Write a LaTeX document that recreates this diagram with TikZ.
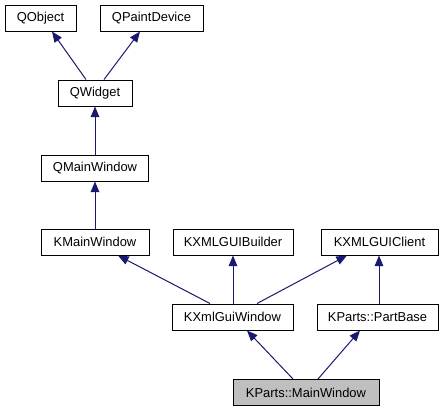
\documentclass[tikz,border=0pt]{standalone}
\usepackage{fontspec}
\setmainfont{Liberation Sans}
\usetikzlibrary{arrows.meta,calc}
\definecolor{edgeblue}{HTML}{191970}
\definecolor{hilite}{HTML}{BFBFBF}
\begin{document}
\begin{tikzpicture}[x=0.75pt,y=-0.75pt,
  cls/.style={draw=black,line width=0.75pt,fill=white,minimum height=19.5pt,inner sep=0pt,font=\fontsize{9.7}{11}\selectfont},
  edge/.style={draw=edgeblue,line width=0.75pt,-{Triangle[length=8pt,width=6.5pt]}}]
\useasboundingbox (0,0) rectangle (447,411);
\node[cls,minimum width=53.25pt] (qo) at (40.5,18) {QObject};
\node[cls,minimum width=77.25pt] (qpd) at (151.5,18) {QPaintDevice};
\node[cls,minimum width=55.5pt] (qw) at (95,93) {QWidget};
\node[cls,minimum width=80.25pt] (qmw) at (95,168) {QMainWindow};
\node[cls,minimum width=81pt] (kmw) at (95,242) {KMainWindow};
\node[cls,minimum width=90pt] (kgb) at (233,242) {KXMLGUIBuilder};
\node[cls,minimum width=87.75pt] (kgc) at (379.5,242) {KXMLGUIClient};
\node[cls,minimum width=90.75pt] (kxw) at (232.5,317) {KXmlGuiWindow};
\node[cls,minimum width=90.75pt] (kpb) at (377.5,317) {KParts::PartBase};
\node[cls,minimum width=109.5pt,fill=hilite] (kpmw) at (306,392.5) {KParts::MainWindow};
\draw[edge] ($(qw.north)+(-9,0)$) -- ($(qo.south)+(11.5,0)$);
\draw[edge] ($(qw.north)+(9,0)$) -- ($(qpd.south)+(-11.5,0)$);
\draw[edge] (qmw.north) -- (qw.south);
\draw[edge] (kmw.north) -- (qmw.south);
\draw[edge] ($(kxw.north)+(-22.5,0)$) -- ($(kmw.south)+(23,0)$);
\draw[edge] ($(kxw.north)+(0.5,0)$) -- (kgb.south);
\draw[edge] ($(kxw.north)+(24.5,0)$) -- ($(kgc.south)+(-32.5,0)$);
\draw[edge] ($(kpb.north)+(1.5,0)$) -- ($(kgc.south)+(-0.5,0)$);
\draw[edge] ($(kpmw.north)+(-13,0)$) -- ($(kxw.south)+(14.5,0)$);
\draw[edge] ($(kpmw.north)+(12,0)$) -- ($(kpb.south)+(-17.5,0)$);
\end{tikzpicture}
\end{document}
